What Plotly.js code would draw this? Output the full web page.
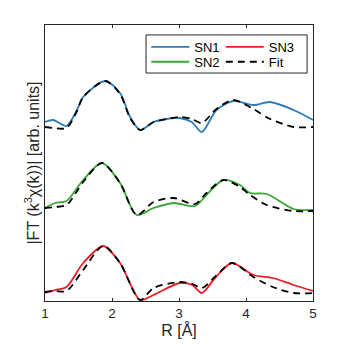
<!DOCTYPE html>
<html>
<head>
<meta charset="utf-8">
<script src="https://cdn.plot.ly/plotly-3.0.1.min.js"></script>
<style>
  body { margin: 0; background: #fff; }
  #chart { width: 346px; height: 346px; }
</style>
</head>
<body>
<div id="chart"></div>
<script>
// distances in Angstrom, magnitudes in arbitrary units (curves are stacked)
const r1 = [1.0, 1.12, 1.32, 1.47, 1.57, 1.90, 2.12, 2.27, 2.42, 2.62, 2.82, 3.01, 3.19, 3.34, 3.56, 3.81, 4.11, 4.36, 4.71, 5.0];
const sn1 = [179, 181, 175, 190, 204, 220, 208, 184, 171, 179, 182, 183, 179, 169, 191, 200, 196, 199, 191, 181];
const fit1 = [174, 173, 173, 189, 204, 220, 207, 183, 171, 179, 182, 184, 182, 178, 192, 201, 192, 182, 174, 174];

const r2 = [1.0, 1.15, 1.32, 1.57, 1.85, 2.12, 2.37, 2.62, 2.92, 3.24, 3.41, 3.66, 3.91, 4.06, 4.31, 4.71, 5.0];
const sn2 = [93, 98, 100, 121, 138, 118, 86, 93, 98, 95, 106, 121, 116, 108, 107, 92, 91];
const fit2 = [93, 94, 96, 119, 138, 118, 86, 99, 103, 97, 108, 121, 114, 106, 96, 90, 90];

const r3 = [1.0, 1.15, 1.32, 1.57, 1.87, 2.12, 2.42, 2.62, 3.01, 3.20, 3.34, 3.55, 3.79, 4.11, 4.40, 4.71, 5.0];
const sn3 = [8, 11, 14, 38, 55, 38, 1, 6, 18, 16, 8, 24, 38, 26, 23, 16, 10];
const fit3 = [9, 10, 10, 31, 55, 38, 1, 13, 19, 17, 13, 25, 38, 24, 14, 8, 8];

const xTicks = [1, 2, 3, 4, 5];

const txt = '#262626';
const fitLine = {color: '#000000', width: 1.8, dash: '7px,5px', shape: 'spline', smoothing: 0.8};

function curve(x, y, name, color, leg) {
    return {x: x, y: y, name: name, mode: 'lines', legend: leg,
        line: {color: color, width: 1.8, shape: 'spline', smoothing: 0.8}};
}

// one legend per entry so the 2x2 grid sits like the original, framed by one box
const traces = [
    curve(r1, sn1, 'SN1', '#2b7bba', 'legend'),
    curve(r2, sn2, 'SN2', '#3aa637', 'legend3'),
    curve(r3, sn3, 'SN3', '#ee1c25', 'legend2'),
    {x: r1, y: fit1, name: 'Fit', mode: 'lines', line: fitLine, legend: 'legend4'},
    {x: r2, y: fit2, name: 'Fit', mode: 'lines', line: fitLine, showlegend: false},
    {x: r3, y: fit3, name: 'Fit', mode: 'lines', line: fitLine, showlegend: false},
];

function legendAt(x, y) {
    return {
        x: x, y: y, xanchor: 'left', yanchor: 'top',
        bgcolor: 'rgba(0,0,0,0)', borderwidth: 0,
        itemwidth: 38,
        font: {size: 13, color: '#000'},
    };
}

const layout = {
    width: 346,
    height: 346,
    margin: {l: 45, r: 33, t: 25, b: 45},
    paper_bgcolor: '#ffffff',
    plot_bgcolor: '#ffffff',
    font: {family: 'Liberation Sans, Arial, sans-serif', size: 13, color: txt},
    showlegend: true,
    legend: legendAt(0.378, 0.975),
    legend2: legendAt(0.656, 0.975),
    legend3: legendAt(0.378, 0.921),
    legend4: legendAt(0.656, 0.921),
    shapes: [{
        type: 'rect', xref: 'paper', yref: 'paper', layer: 'above',
        x0: 0.377, x1: 0.978, y0: 0.826, y1: 0.964,
        line: {color: txt, width: 1}, fillcolor: '#ffffff',
    }],
    xaxis: {
        range: [1, 5],
        tickvals: xTicks,
        ticktext: xTicks.map(String),
        ticks: 'inside', ticklen: 3, tickcolor: txt,
        showline: true, linecolor: txt, linewidth: 1, mirror: 'ticks',
        showgrid: false, zeroline: false,
        tickfont: {size: 13.5, color: txt},
        title: {text: 'R [Å]', font: {size: 16, color: txt}, standoff: 2},
    },
    yaxis: {
        range: [0, 276],
        showticklabels: false,
        ticks: '',
        showline: true, linecolor: txt, linewidth: 1, mirror: true,
        showgrid: false, zeroline: false,
        title: {text: '|FT (k<sup>3</sup>χ(k))| [arb. units]', font: {size: 16, color: txt}, standoff: 0},
    },
};

Plotly.newPlot('chart', traces, layout, {displayModeBar: false, staticPlot: true});
</script>
</body>
</html>
